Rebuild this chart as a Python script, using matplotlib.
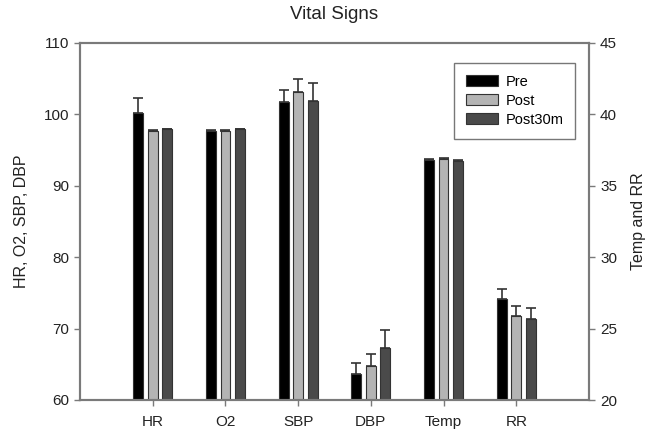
import matplotlib
matplotlib.use("Agg")
import matplotlib.pyplot as plt
import numpy as np

plt.rcParams["font.family"] = ["Liberation Sans", "DejaVu Sans"]

categories = ["HR", "O2", "SBP", "DBP", "Temp", "RR"]
series = ["Pre", "Post", "Post30m"]

# first four on the left axis, Temp and RR on the right axis
pre = [100.2, 97.7, 101.7, 63.6, 36.8, 27.05]
post = [97.7, 97.7, 103.2, 64.75, 36.9, 25.9]
post30 = [97.95, 97.95, 101.9, 67.3, 36.75, 25.7]

pre_err = [2.1, 0.1, 1.7, 1.6, 0.05, 0.75]
post_err = [0.05, 0.05, 1.8, 1.75, 0.05, 0.7]
post30_err = [0.05, 0.05, 2.5, 2.5, 0.05, 0.75]

colors = ["#000000", "#b4b4b4", "#4a4a4a"]
spine_c = "#7a7a7a"

fig = plt.figure(figsize=(6.57, 4.32), dpi=100)
ax = fig.add_axes([80 / 657, 32 / 432, 509 / 657, 357 / 432])
ax2 = ax.twinx()

x = np.arange(1, len(categories) + 1)
n_left = 4
width = 0.135
offsets = [-0.2, 0.0, 0.2]

handles = []
for vals, errs, col, off, name in zip([pre, post, post30], [pre_err, post_err, post30_err],
                                      colors, offsets, series):
    vals = np.array(vals)
    errs = np.array(errs)
    for a, sl in [(ax, slice(0, n_left)), (ax2, slice(n_left, None))]:
        xs = x[sl] + off
        b = a.bar(xs, vals[sl], width, color=col, edgecolor="#333333", linewidth=0.8,
                  yerr=[np.zeros_like(errs[sl]), errs[sl]], capsize=3.5,
                  error_kw=dict(ecolor="#333333", elinewidth=1.2, capthick=1.2), zorder=2)
    handles.append(b)

ax.set_xlim(0, 7)
ax.set_ylim(60, 110)
ax2.set_ylim(20, 45)
ax.set_yticks(np.arange(60, 111, 10))
ax2.set_yticks(np.arange(20, 46, 5))
ax.set_xticks(x)
ax.set_xticklabels(categories)

for a in (ax, ax2):
    for s in a.spines.values():
        s.set_color(spine_c)
        s.set_linewidth(1.5)
    a.tick_params(direction="out", length=4, width=1, color=spine_c,
                  labelsize=11, labelcolor="#222222", pad=4)
ax.tick_params(axis="x", pad=7)

ax.set_ylabel("HR, O2, SBP, DBP", fontsize=11.5, color="#222222", labelpad=10)
ax2.set_ylabel("Temp and RR", fontsize=11.5, color="#222222", labelpad=10)
ax.set_title("Vital Signs", fontsize=13.5, color="#222222", pad=17)

leg = ax2.legend(handles, series, loc="upper right", bbox_to_anchor=(0.9725, 0.944),
                 borderaxespad=0, fontsize=10.5, frameon=True, fancybox=False,
                 handlelength=2.2, handleheight=0.75, borderpad=0.8, labelspacing=0.35,
                 handletextpad=0.5)
leg.get_frame().set_edgecolor("#555555")
leg.get_frame().set_linewidth(1.0)

fig.savefig("out.png", dpi=100)
